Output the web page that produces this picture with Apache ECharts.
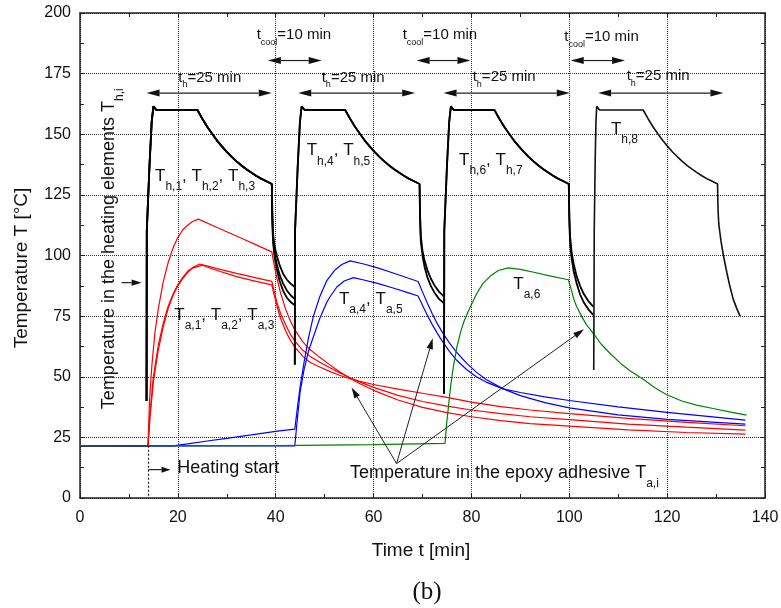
<!DOCTYPE html>
<html>
<head>
<meta charset="utf-8">
<script src="https://cdn.jsdelivr.net/npm/echarts@6/dist/echarts.min.js"></script>
<style>
  html, body { margin: 0; padding: 0; background: #fff; }
  #main { width: 781px; height: 608px; }
</style>
</head>
<body>
<div id="main"></div>
<script>
// heating elements, [time min, temperature °C]
const heat123 = [[13.6,40],[13.65,110],[14.2,137],[14.65,155],[15,161.5],[15.6,160],[24,160],[25,156.4],[26,153.1],[27,150.2],[28,147.4],[29,145],[30,142.7],[31,140.7],[32,138.8],[33,137.1],[34,135.6],[35,134.2],[36,132.9],[37,131.7],[38,130.7],[39.2,129.5]];
const cool1 = [[39.3,118],[39.45,109],[39.8,103.5],[40.2,100],[40.8,96],[41.5,92.5],[42.3,90],[43.1,88.3],[43.9,87]];
const cool2 = [[39.3,116],[39.45,107],[39.8,100.5],[40.2,96.5],[40.8,92],[41.5,88.5],[42.3,85.5],[43.1,83.5],[43.9,82]];
const cool3 = [[39.3,115],[39.45,105.5],[39.8,99],[40.2,94.5],[40.8,89.5],[41.5,85.5],[42.3,82.5],[43.1,80.7],[43.9,79.5]];

const heat45 = [[43.9,55],[43.95,110],[44.5,137],[44.95,155],[45.3,161.5],[45.9,160],[54.2,160],[55.2,156.4],[56.2,153.1],[57.2,150.2],[58.2,147.4],[59.2,145],[60.2,142.7],[61.2,140.7],[62.2,138.8],[63.2,137.1],[64.2,135.6],[65.2,134.2],[66.2,132.9],[67.2,131.7],[68.2,130.7],[69.4,129.5]];
const cool4 = [[69.5,117],[69.65,108],[70,102],[70.4,98],[71,94],[71.7,90.5],[72.5,87.5],[73.4,85],[74.4,83]];
const cool5 = [[69.5,115],[69.65,106],[70,100],[70.4,95.5],[71,91],[71.7,87.5],[72.5,84.5],[73.4,82],[74.4,80.3]];

const heat67 = [[74.4,43],[74.45,110],[75,137],[75.45,155],[75.8,161.5],[76.4,160],[84.7,160],[85.7,156.4],[86.7,153.1],[87.7,150.2],[88.7,147.4],[89.7,145],[90.7,142.7],[91.7,140.7],[92.7,138.8],[93.7,137.1],[94.7,135.6],[95.7,134.2],[96.7,132.9],[97.7,131.7],[98.7,130.7],[99.9,129.5]];
const cool6 = [[100,117],[100.15,108],[100.5,101],[100.9,96.5],[101.5,91.5],[102.2,87.5],[103,84],[103.9,81.2],[104.9,78.9]];
const cool7 = [[100,115],[100.15,105.5],[100.5,98.5],[100.9,93.5],[101.5,88.5],[102.2,84],[103,80.5],[103.9,77.8],[104.9,75.5]];

const heat8 = [[105,52.8],[105.1,110],[105.3,140],[105.45,155],[105.6,161.5],[106.2,160],[115.1,160],[116.1,156.4],[117.1,153.1],[118.1,150.2],[119.1,147.4],[120.1,145],[121.1,142.7],[122.1,140.7],[123.1,138.8],[124.1,137.1],[125.1,135.6],[126.1,134.2],[127.1,132.9],[128.1,131.7],[129.1,130.7],[130.3,129.5],[130.4,119],[130.55,113],[131,106],[131.5,100],[132.2,93],[132.8,87.5],[133.5,82],[134.2,78.3],[134.9,75]];

// epoxy adhesive
const red1 = [[0,21.5],[13.9,21.5],[14.2,40],[14.7,55],[15.3,68],[16,78],[17,89],[18,97],[19,103],[20,107.5],[21,110.5],[22,112.5],[23,114],[24.2,115],[27,112.5],[30,109.8],[33,107.1],[36,104.4],[39.2,101.5],[39.6,97],[40.2,91],[41,84.5],[42,78],[43,73],[44,69],[45.5,64.5],[47,61.2],[49,58],[51,55],[53,52.2],[55,49.6],[57,47.3],[60,44.4],[65,40.4],[70,37.4],[75,35.2],[80,33.5],[86,31.9],[92,30.7],[100,29.6],[112,28.1],[124,27],[136,26.3]];
const red2 = [[0,21.5],[13.9,21.5],[14.3,35],[15,50],[16,63],[17,72],[18,79],[19,84],[20,88],[21,91],[22,93.5],[23,95],[24.5,96.5],[28,94.6],[32,92.6],[36,90.8],[39.2,89.3],[39.6,86],[40.2,81],[41,76],[42,71.5],[43,67.5],[44,64.5],[45.5,61],[47,58.5],[49,56],[51,53.8],[53,51.7],[55,49.8],[57,48],[60,45.6],[65,42.3],[70,39.8],[75,37.9],[80,36.3],[86,34.8],[92,33.5],[100,32.3],[112,30.5],[124,29.2],[136,28]];
const red3 = [[0,21.5],[13.9,21.5],[14.3,33],[15,48],[16,61],[17,70.5],[18,78],[19,83.5],[20,87.5],[21,90.5],[22,93],[23,94.8],[25,96],[28,93.8],[32,91.3],[36,89.3],[39.2,87.9],[39.6,84.5],[40.2,79.5],[41,74],[42,69],[43,65],[44,62],[45.5,58.5],[47,56],[49,54],[51,52.2],[53,50.6],[55,49.3],[57,48.2],[60,46.8],[65,44.9],[70,43.2],[75,41.5],[80,39.5],[86,37.7],[92,36.3],[100,34.8],[112,32.8],[124,31.2],[136,29.8]];
const blue4 = [[0,21.5],[19,21.5],[22,22.3],[26,23.5],[30,24.6],[35,26],[40,27.5],[43.9,28.4],[44.3,35],[45,46],[45.8,56],[46.7,66],[47.7,75],[49,83],[50.4,89.5],[52,93.8],[53.5,96.3],[55.2,97.8],[58,96.5],[61,94.8],[64,92.8],[67,90.7],[69.1,89.3],[70,85],[71,80.3],[72,76],[73,72],[74,68.5],[75.5,64],[77,60],[79,55.6],[81,51.9],[83,48.9],[86.5,45],[90,42.2],[95,39.3],[100,37.2],[110,34.3],[120,32.4],[136,30.5]];
const blue5 = [[0,21.5],[43.9,21.5],[44.3,30],[45,44],[45.8,53],[46.7,60.5],[47.7,66.5],[49,74],[50.4,80.5],[51.1,83],[52.5,87],[54,89.5],[55.9,90.9],[58,89.9],[61,88.4],[64,86.6],[67,84.7],[69.1,83.3],[70,79.5],[71,75.3],[72,71.5],[73,68],[74,64.8],[75.5,60.5],[77,56.8],[79,53],[81,50],[83,47.8],[86.5,45],[90,43.5],[95,41.7],[100,40.2],[110,37.6],[120,35.3],[136,32.1]];
const green6 = [[0,21.5],[40,21.6],[60,22],[74.6,22.5],[74.9,30],[75.3,37.6],[75.8,47],[76.3,54],[77,62],[77.8,68.5],[78.5,73],[79.7,78.5],[81,84],[82.4,88.6],[84,91.8],[85.5,93.8],[87.5,94.9],[90,94.3],[93,93],[96,91.6],[99.8,90],[100.4,86],[101,81.5],[101.5,79],[102.5,75],[103.5,71.5],[104.9,67.9],[106.5,63.5],[108.3,59.7],[110.5,55.5],[112.4,52.5],[115.1,49],[117.5,45.5],[119.9,42.6],[123,40],[126,38.3],[129.4,36.9],[133,35.4],[136.2,34.2]];

const chartDom = document.getElementById('main');
const myChart = echarts.init(chartDom);
const FONT = 'Liberation Sans';
const INK = '#111';

function curve(data, color, width) {
    return {
        type: 'line',
        data: data,
        showSymbol: false,
        symbol: 'none',
        silent: true,
        lineStyle: { color: color, width: width },
        itemStyle: { color: color }
    };
}

const frameAxis = {
    type: 'value',
    axisLine: { show: true, onZero: false, lineStyle: { color: '#222', width: 1.5 } },
    axisTick: { show: true, inside: true, length: 5, lineStyle: { color: '#222' } },
    minorTick: { show: true, splitNumber: 2, length: 4, lineStyle: { color: '#222' } },
    splitLine: { show: false },
    axisLabel: { show: false }
};
const gridLine = { show: true, lineStyle: { type: 'dotted', color: '#333', width: 1 } };
const tickText = { show: true, fontSize: 16, color: INK, fontFamily: FONT };

let option = {
    animation: false,
    backgroundColor: '#fff',
    grid: { left: 80, right: 16, top: 13, bottom: 110, outerBoundsMode: 'none' },
    xAxis: [
        Object.assign({}, frameAxis, { min: 0, max: 140, interval: 20, position: 'bottom',
            splitLine: gridLine, axisLabel: Object.assign({ margin: 12 }, tickText) }),
        Object.assign({}, frameAxis, { min: 0, max: 140, interval: 20, position: 'top' })
    ],
    yAxis: [
        Object.assign({}, frameAxis, { min: 0, max: 200, interval: 25, position: 'left',
            splitLine: gridLine, axisLabel: Object.assign({ margin: 9 }, tickText) }),
        Object.assign({}, frameAxis, { min: 0, max: 200, interval: 25, position: 'right' })
    ],
    series: [
        curve(red1, '#ff0000', 1.2),
        curve(red2, '#ff0000', 1.2),
        curve(red3, '#ff0000', 1.2),
        curve(blue4, '#0000ff', 1.2),
        curve(blue5, '#0000ff', 1.2),
        curve(green6, '#008000', 1.2),
        curve(heat123.concat(cool1), '#000', 1.8),
        curve(heat123.concat(cool2), '#000', 1.8),
        curve(heat123.concat(cool3), '#000', 1.8),
        curve(heat45.concat(cool4), '#000', 1.8),
        curve(heat45.concat(cool5), '#000', 1.8),
        curve(heat67.concat(cool6), '#000', 1.8),
        curve(heat67.concat(cool7), '#000', 1.8),
        curve(heat8, '#111', 1.6)
    ]
};
myChart.setOption(option);

// ---- annotations ----
function richStyles(main, sub, mainLh, subLh) {
    return {
        n: { fontSize: main, lineHeight: mainLh, verticalAlign: 'top', fontFamily: FONT, fill: INK },
        s: { fontSize: sub, lineHeight: subLh, fontFamily: FONT, fill: INK }
    };
}
const RICH_T = richStyles(17, 12, 20, 38);     // main centre 10, sub centre 19
const RICH_M = richStyles(18, 12, 20, 38);
const RICH_S = richStyles(15, 9, 16, 30);      // main centre 8, sub centre 15

function rich(parts) {
    return parts.map(function (p) {
        return typeof p === 'string' ? '{n|' + p + '}' : '{n|' + p[0] + '}{s|' + p[1] + '}';
    }).join('');
}

// text anchors: left edge, vertical centre of the main letters (data units)
const notes = [
    { at: [15.33, 132.1], parts: [['T', 'h,1'], ', ', ['T', 'h,2'], ', ', ['T', 'h,3']], r: RICH_T },
    { at: [46.33, 142.6], parts: [['T', 'h,4'], ', ', ['T', 'h,5']], r: RICH_T },
    { at: [77.46, 138.8], parts: [['T', 'h,6'], ', ', ['T', 'h,7']], r: RICH_T },
    { at: [108.5, 151.6], parts: [['T', 'h,8']], r: RICH_T },
    { at: [19.27, 74.7], parts: [['T', 'a,1'], ', ', ['T', 'a,2'], ', ', ['T', 'a,3']], r: RICH_T },
    { at: [52.93, 81.5], parts: [['T', 'a,4'], ', ', ['T', 'a,5']], r: RICH_T },
    { at: [88.55, 87.5], parts: [['T', 'a,6']], r: RICH_T },
    { at: [20.09, 173.2], parts: [['t', 'h'], '=25 min'], r: RICH_S },
    { at: [49.4, 173.2], parts: [['t', 'h'], '=25 min'], r: RICH_S },
    { at: [80.26, 173.4], parts: [['t', 'h'], '=25 min'], r: RICH_S },
    { at: [111.73, 174.0], parts: [['t', 'h'], '=25 min'], r: RICH_S },
    { at: [36.11, 190.8], parts: [['t', 'cool'], '=10 min'], r: RICH_S },
    { at: [65.95, 190.8], parts: [['t', 'cool'], '=10 min'], r: RICH_S },
    { at: [98.98, 190.0], parts: [['t', 'cool'], '=10 min'], r: RICH_S },
    { at: [19.89, 12.1], parts: ['Heating start'], r: RICH_M },
    { at: [55.18, 9.8], parts: ['Temperature in the epoxy adhesive ', ['T', 'a,i']], r: RICH_M }
];

const arrows = [
    { from: [13.6, 167], to: [39.2, 167], both: true, head: [13, 3.5], w: 1.2 },
    { from: [44.6, 167], to: [68.5, 167], both: true, head: [13, 3.5], w: 1.2 },
    { from: [74.3, 167], to: [100.1, 167], both: true, head: [13, 3.5], w: 1.2 },
    { from: [105.9, 167], to: [131.5, 167], both: true, head: [13, 3.5], w: 1.2 },
    { from: [38.4, 180.4], to: [49.4, 180.4], both: true, head: [13, 3.5], w: 1.2 },
    { from: [68.8, 180.4], to: [79.8, 180.4], both: true, head: [13, 3.5], w: 1.2 },
    { from: [100.3, 180.4], to: [111.4, 180.4], both: true, head: [13, 3.5], w: 1.2 },
    { from: [8.5, 88.8], to: [12.6, 88.8], both: false, head: [10, 3.2], w: 1.2 },
    { from: [14.0, 11.7], to: [18.5, 11.7], both: false, head: [9, 3], w: 1.2 },
    { from: [64.7, 14.2], to: [55.5, 45.6], both: false, head: [11, 3.2], w: 1 },
    { from: [64.7, 14.2], to: [72.1, 65.9], both: false, head: [11, 3.2], w: 1 },
    { from: [64.7, 14.2], to: [103, 69.6], both: false, head: [11, 3.2], w: 1 }
];

function px(p) { return myChart.convertToPixel({ gridIndex: 0 }, p); }

function arrowShapes(a) {
    const p1 = px(a.from), p2 = px(a.to);
    const dx = p2[0] - p1[0], dy = p2[1] - p1[1];
    const len = Math.hypot(dx, dy);
    const ux = dx / len, uy = dy / len;
    const L = a.head[0], W = a.head[1];
    const out = [];
    function head(tip, sx, sy) {
        out.push({
            type: 'polygon', silent: true, z: 20,
            shape: { points: [tip,
                [tip[0] - sx * L - sy * W, tip[1] - sy * L + sx * W],
                [tip[0] - sx * L + sy * W, tip[1] - sy * L - sx * W]] },
            style: { fill: '#111' }
        });
    }
    const s = a.both ? [p1[0] + ux * L, p1[1] + uy * L] : p1;
    const e = [p2[0] - ux * L, p2[1] - uy * L];
    out.push({ type: 'line', silent: true, z: 20,
        shape: { x1: s[0], y1: s[1], x2: e[0], y2: e[1] },
        style: { stroke: '#222', lineWidth: a.w } });
    head(p2, ux, uy);
    if (a.both) head(p1, -ux, -uy);
    return out;
}

const graphics = [];
notes.forEach(function (n) {
    const p = px(n.at);
    graphics.push({
        type: 'text', silent: true, z: 20,
        x: p[0], y: p[1] - n.r.n.lineHeight / 2,
        style: { text: rich(n.parts), rich: n.r, align: 'left', verticalAlign: 'top', fill: INK }
    });
});
arrows.forEach(function (a) { arrowShapes(a).forEach(function (g) { graphics.push(g); }); });

// dotted marker at heating start
const hs0 = px([14, 21.5]), hs1 = px([14, 0]);
graphics.push({ type: 'line', silent: true, z: 20,
    shape: { x1: hs0[0], y1: hs0[1], x2: hs1[0], y2: hs1[1] },
    style: { stroke: '#222', lineWidth: 1.2, lineDash: [2, 2] } });

// rotated label inside the plot
const he = px([6.23, 102.8]);
graphics.push({
    type: 'text', silent: true, z: 20, rotation: Math.PI / 2,
    x: he[0] - 10, y: he[1],
    style: { text: rich(['Temperature in the heating elements ', ['T', 'h,i']]), rich: RICH_M,
        align: 'center', verticalAlign: 'top', fill: INK }
});

// axis titles and panel tag
graphics.push({
    type: 'text', silent: true, x: 421, y: 551,
    style: { text: 'Time t [min]', font: '19px ' + FONT, fill: INK, align: 'center', verticalAlign: 'middle' }
});
graphics.push({
    type: 'text', silent: true, x: 22, y: 268, rotation: Math.PI / 2,
    style: { text: 'Temperature T [°C]', font: '19px ' + FONT, fill: INK, align: 'center', verticalAlign: 'middle' }
});
graphics.push({
    type: 'text', silent: true, x: 427, y: 592,
    style: { text: '(b)', font: '25px Liberation Serif', fill: INK, align: 'center', verticalAlign: 'middle' }
});

myChart.setOption({ graphic: graphics });
</script>
</body>
</html>
